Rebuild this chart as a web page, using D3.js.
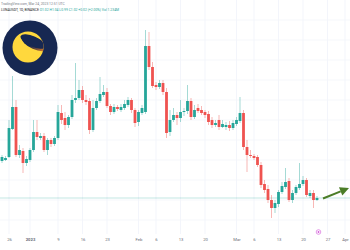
<!DOCTYPE html>
<html><head><meta charset="utf-8">
<script src="https://cdn.jsdelivr.net/npm/d3@7"></script>
<style>html,body{margin:0;padding:0;background:#fff;overflow:hidden}</style>
</head><body>
<svg id="c" width="350" height="250"></svg>
<script>
// ---- data (daily LUNA/USDT candles) ----
const startDate = "2022-12-24";
const opens  = [1.39,1.40,1.43,1.71,1.93,1.45,1.49,1.37,1.40,1.50,1.68,1.62,1.64,1.50,1.60,1.56,1.62,1.87,1.82,1.75,1.83,2.00,2.02,2.10,2.00,1.99,1.70,1.92,1.99,2.05,2.08,1.94,1.88,1.93,1.90,1.92,1.95,2.00,1.90,1.78,1.87,1.88,2.54,2.33,2.15,2.13,2.17,2.08,1.68,1.80,1.85,1.82,1.88,1.89,1.99,1.83,1.92,1.90,1.88,1.86,1.80,1.75,1.80,1.73,1.73,1.75,1.72,1.76,1.79,1.87,1.53,1.45,1.44,1.43,1.35,1.16,1.11,1.00,0.92,0.96,1.08,1.13,1.19,1.00,1.07,1.12,1.16,1.20,1.04,1.07,1.00];
const highs  = [1.45,1.44,1.80,2.24,2.00,1.55,1.52,1.44,1.52,1.80,1.80,1.67,1.67,1.62,1.62,1.64,1.95,1.95,1.88,1.85,2.05,2.37,2.20,2.14,2.05,2.02,2.00,2.02,2.23,2.15,2.12,1.96,1.96,1.95,1.96,2.00,2.03,2.02,1.92,1.90,1.95,2.70,2.68,2.38,2.18,2.20,2.20,2.12,1.90,1.92,1.88,2.00,1.92,2.15,2.02,1.95,1.96,1.94,1.90,1.89,1.83,1.80,1.85,1.80,1.78,1.79,1.80,1.83,2.03,1.90,1.60,1.50,1.46,1.45,1.38,1.20,1.15,1.05,1.00,1.10,1.18,1.32,1.22,1.10,1.15,1.37,1.24,1.22,1.10,1.10,1.04];
const lows   = [1.37,1.39,1.42,1.70,1.43,1.42,1.27,1.34,1.38,1.48,1.60,1.60,1.48,1.45,1.53,1.54,1.60,1.76,1.70,1.72,1.81,1.97,2.00,1.97,1.95,1.66,1.68,1.90,1.97,2.03,1.92,1.85,1.86,1.89,1.88,1.90,1.93,1.87,1.73,1.74,1.85,1.86,2.30,2.12,2.10,2.11,2.05,1.62,1.64,1.78,1.75,1.78,1.84,1.86,1.80,1.81,1.87,1.85,1.82,1.75,1.72,1.73,1.70,1.72,1.70,1.69,1.70,1.74,1.77,1.50,1.28,1.42,1.40,1.33,1.12,1.07,0.97,0.82,0.87,0.93,1.06,1.11,0.98,0.97,1.05,1.10,1.14,1.03,1.02,0.92,0.99];
const closes = [1.43,1.42,1.72,1.93,1.45,1.50,1.37,1.41,1.50,1.68,1.63,1.64,1.50,1.60,1.56,1.62,1.88,1.80,1.75,1.83,2.00,2.02,2.10,2.00,1.98,1.70,1.92,1.99,2.06,2.08,1.94,1.88,1.93,1.91,1.93,1.96,2.00,1.90,1.77,1.88,1.92,2.54,2.33,2.14,2.13,2.17,2.08,1.67,1.80,1.85,1.82,1.88,1.89,1.99,1.83,1.90,1.89,1.87,1.85,1.78,1.75,1.77,1.73,1.76,1.75,1.72,1.77,1.80,1.87,1.53,1.45,1.44,1.42,1.35,1.15,1.10,1.00,0.92,0.97,1.08,1.14,1.18,1.00,1.07,1.13,1.16,1.20,1.05,1.07,1.00,1.02];
const tickDates  = ["2022-12-26","2023-01-01","2023-01-09","2023-01-16","2023-01-23","2023-02-01","2023-02-06","2023-02-13","2023-02-20","2023-03-01","2023-03-06","2023-03-13","2023-03-20","2023-03-27","2023-04-01"];
const tickLabels = ["26","2023","9","16","23","Feb","6","13","20","Mar","6","13","20","27","Apr"];
const headerLine1 = "TradingView.com, Mar 24, 2023 12:51 UTC";
const headerSymbol = "LUNAUSDT, 1D, BINANCE ";
const headerValues = "O1.02 H1.04 L0.99 C1.02 +0.02 (+2.00%) Vol 1.234M";

// ---- build ----
const W = 350, H = 250;
const svg = d3.select("#c");
const day = 864e5;
const t0 = new Date(startDate + "T00:00:00Z");
const data = closes.map((c,i)=>({date:new Date(+t0 + i*day), o:opens[i], h:highs[i], l:lows[i], c}));

const x = d3.scaleUtc()
  .domain([t0, new Date("2023-04-01T00:00:00Z")])
  .range([2, 2 + 3.5*98]);
const y = d3.scaleLinear().domain([0.5, 3.0]).range([250, 0]);

const up = "#26a69a", down = "#ef5350";
const ticks = tickDates.map(s=>new Date(s+"T00:00:00Z"));

// grid
const g = svg.append("g");
g.selectAll("line.v").data(ticks).join("line")
  .attr("x1",d=>x(d)).attr("x2",d=>x(d)).attr("y1",0).attr("y2",234)
  .attr("stroke","#f0f3fa").attr("stroke-width",0.8);
const hTicks = d3.range(0.8, 2.81, 0.2);
g.selectAll("line.h").data(hTicks).join("line")
  .attr("x1",0).attr("x2",W).attr("y1",d=>y(d)).attr("y2",d=>y(d))
  .attr("stroke","#f3f5fa").attr("stroke-width",0.8);

// logo
const logo = svg.append("g");
const defs = svg.append("defs");
defs.append("clipPath").attr("id","moon").append("circle").attr("cx",28).attr("cy",47).attr("r",15.5);
const lg = defs.append("linearGradient").attr("id","og").attr("x1","0").attr("x2","1").attr("y1","0").attr("y2","0");
lg.append("stop").attr("offset","0.35").attr("stop-color","#172852");
lg.append("stop").attr("offset","1").attr("stop-color","#f4841f");
logo.append("circle").attr("cx",30).attr("cy",48).attr("r",27.5).attr("fill","#172852");
logo.append("circle").attr("cx",28).attr("cy",47).attr("r",15.5).attr("fill","#ffd83d");
const cut = logo.append("g").attr("clip-path","url(#moon)");
cut.append("ellipse").attr("cx",35).attr("cy",43.5).attr("rx",14).attr("ry",5.8)
  .attr("transform","rotate(24,35,43.5)").attr("fill","url(#og)");
cut.append("ellipse").attr("cx",33).attr("cy",41.5).attr("rx",13.5).attr("ry",5.2)
  .attr("transform","rotate(24,33,41.5)").attr("fill","#172852");

// price line
const last = data[data.length-1];
svg.append("line").attr("x1",0).attr("x2",W).attr("y1",y(last.c)).attr("y2",y(last.c))
  .attr("stroke",up).attr("stroke-opacity",0.35).attr("stroke-width",0.8);

// candles
const bw = 2.8;
const cg = svg.append("g");
cg.selectAll("line.w").data(data).join("line")
  .attr("x1",d=>x(d.date)).attr("x2",d=>x(d.date))
  .attr("y1",d=>y(d.h)).attr("y2",d=>y(d.l))
  .attr("stroke",d=>d.c>=d.o?up:down).attr("stroke-width",0.7).attr("stroke-opacity",0.6);
cg.selectAll("rect").data(data).join("rect")
  .attr("x",d=>x(d.date)-bw/2).attr("width",bw)
  .attr("y",d=>y(Math.max(d.o,d.c)))
  .attr("height",d=>Math.max(0.8, Math.abs(y(d.o)-y(d.c))))
  .attr("fill",d=>d.c>=d.o?up:down);

// arrow
const ax0 = x(last.date)+6, ay0 = y(last.c)+0.5;
const tipX = 349, tipY = ay0 - 10.5;
const dx = tipX-ax0, dy = tipY-ay0, len = Math.hypot(dx,dy), ux = dx/len, uy = dy/len;
const bx = tipX-9*ux, by = tipY-9*uy;
svg.append("line").attr("x1",ax0).attr("y1",ay0).attr("x2",bx).attr("y2",by)
  .attr("stroke","#4b7d27").attr("stroke-width",2);
svg.append("polygon").attr("points",[[tipX,tipY],[bx-4.5*uy,by+4.5*ux],[bx+4.5*uy,by-4.5*ux]].map(p=>p.join(",")).join(" "))
  .attr("fill","#4b7d27");

// axis
const axis = d3.axisBottom(x).tickValues(ticks).tickFormat((d,i)=>tickLabels[i]).tickSize(0).tickPadding(0);
const axg = svg.append("g").attr("transform","translate(0,238)").call(axis);
axg.select(".domain").remove();
axg.selectAll("text").attr("font-family","Roboto, sans-serif").attr("font-size",4.2)
  .attr("fill","#6a6d78").attr("font-weight",(d,i)=>tickLabels[i]==="2023"?"bold":"normal");

// event icon
svg.append("circle").attr("cx",x(last.date)+1.5).attr("cy",232).attr("r",2.3)
  .attr("fill","none").attr("stroke","#d257d9").attr("stroke-width",0.6);
svg.append("circle").attr("cx",x(last.date)+1.5).attr("cy",232).attr("r",0.9).attr("fill","#d257d9");

// header
svg.append("text").attr("x",1).attr("y",5).attr("font-family","Roboto, sans-serif")
  .attr("font-size",3.4).attr("fill","#7a7d87").text(headerLine1);
const h2 = svg.append("text").attr("x",1).attr("y",11).attr("font-family","Roboto, sans-serif").attr("font-size",3.4);
h2.append("tspan").attr("fill","#222").text(headerSymbol);
h2.append("tspan").attr("fill",up).text(headerValues);
</script>
</body></html>
